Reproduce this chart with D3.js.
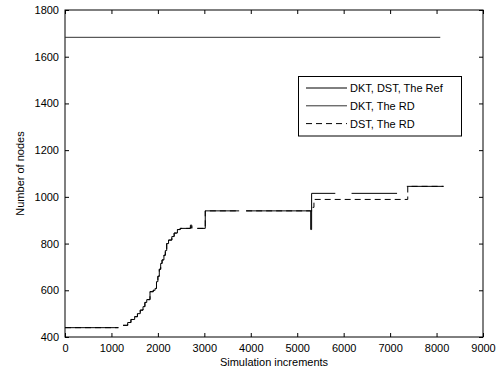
<!DOCTYPE html>
<html><head><meta charset="utf-8">
<script src="https://cdn.jsdelivr.net/npm/d3@7"></script>
<style>body{margin:0;background:#fff}svg{display:block}text{font-family:"Liberation Sans",Arial,sans-serif;fill:#000}</style>
</head><body><svg id="c" width="502" height="375"></svg>
<script>
// ---- data ----
const seriesNames = ["DKT, DST, The Ref", "DKT, The RD", "DST, The RD"];
const xTicks = [0,1000,2000,3000,4000,5000,6000,7000,8000,9000];
const yTicks = [400,600,800,1000,1200,1400,1600,1800];
// step series (x = simulation increment, y = number of nodes), null = gap
const refX = [0,1150,null,1250,1350,1420,1500,1560,1620,1680,1720,1760,1830,1900,1940,1970,2000,2030,2060,2090,2130,2160,2190,2230,2300,2350,2420,2480,2700,2730,null,2850,3020,3750,null,3900,5290,5310,5820,null,6170,7150,null,7360,8150];
const refY = [440,440,null,450,462,475,487,500,515,530,548,560,594,600,608,637,660,690,715,730,750,770,800,815,830,845,860,865,879,865,null,865,940,940,null,940,860,1015,1015,null,1015,1015,null,1045,1045];
const rdDktX = [0,8080];
const rdDktY = [1683,1683];
const rdDstX = [0,1150,null,1250,1350,1420,1500,1560,1620,1680,1720,1760,1830,1900,1940,1970,2000,2030,2060,2090,2130,2160,2190,2230,2300,2350,2420,2480,2700,2730,null,2850,3020,3750,null,3900,5300,5330,5360,7380,8150];
const rdDstY = [440,440,null,450,462,475,487,500,515,530,548,560,594,600,608,637,660,690,715,730,750,770,800,815,830,845,860,865,879,865,null,865,940,940,null,940,940,955,989,1045,1045];

const svg = d3.select("#c");
const L=65, R=483, T=10, B=337;
const x = d3.scaleLinear().domain([0,9000]).range([L,R]);
const y = d3.scaleLinear().domain([400,1800]).range([B,T]);

function pts(xs,ys){return xs.map((v,i)=>v===null?null:[v,ys[i]]);}
const line = d3.line().defined(d=>d!==null).x(d=>x(d[0])).y(d=>y(d[1])).curve(d3.curveStepAfter);

// axes
const tl=4;
svg.append("g").attr("transform",`translate(0,${B})`)
  .call(d3.axisBottom(x).tickValues(xTicks).tickSize(-tl).tickPadding(7).tickFormat(d3.format("d")))
  .call(g=>{g.select(".domain").remove();g.selectAll("text").attr("font-size",11).style("font-family","Liberation Sans, Arial");});
svg.append("g").attr("transform",`translate(0,${T})`)
  .call(d3.axisTop(x).tickValues(xTicks).tickSize(-tl).tickFormat(""))
  .call(g=>g.select(".domain").remove());
svg.append("g").attr("transform",`translate(${L},0)`)
  .call(d3.axisLeft(y).tickValues(yTicks).tickSize(-tl).tickPadding(6).tickFormat(d3.format("d")))
  .call(g=>{g.select(".domain").remove();g.selectAll("text").attr("font-size",11).style("font-family","Liberation Sans, Arial");});
svg.append("g").attr("transform",`translate(${R},0)`)
  .call(d3.axisRight(y).tickValues(yTicks).tickSize(-tl).tickFormat(""))
  .call(g=>g.select(".domain").remove());
svg.selectAll(".tick line").attr("stroke","#000");
svg.append("rect").attr("x",L).attr("y",T).attr("width",R-L).attr("height",B-T)
  .attr("fill","none").attr("stroke","#000").attr("stroke-width",1);

// lines
svg.append("path").datum(pts(rdDktX,rdDktY)).attr("d",line).attr("fill","none").attr("stroke","#333").attr("stroke-width",1);
svg.append("path").datum(pts(rdDstX,rdDstY)).attr("d",line).attr("fill","none").attr("stroke","#000").attr("stroke-width",1).attr("stroke-dasharray","6,4");
svg.append("path").datum(pts(refX,refY)).attr("d",line).attr("fill","none").attr("stroke","#000").attr("stroke-width",1);

// labels
svg.append("text").attr("x",(L+R)/2).attr("y",366).attr("text-anchor","middle").attr("font-size",11).text("Simulation increments");
svg.append("text").attr("transform",`translate(24,${(T+B)/2}) rotate(-90)`).attr("text-anchor","middle").attr("font-size",11).text("Number of nodes");

// legend
const lg = svg.append("g");
lg.append("rect").attr("x",298.5).attr("y",76.5).attr("width",163).attr("height",59.5).attr("fill","#fff").attr("stroke","#000");
const styles=[{c:"#000",d:null},{c:"#333",d:null},{c:"#000",d:"6,4"}];
seriesNames.forEach((n,i)=>{
  const yy=88+i*17.8;
  lg.append("line").attr("x1",306).attr("x2",347).attr("y1",yy).attr("y2",yy).attr("stroke",styles[i].c).attr("stroke-dasharray",styles[i].d);
  lg.append("text").attr("x",350).attr("y",yy+4).attr("font-size",11).text(n);
});
</script></body></html>
